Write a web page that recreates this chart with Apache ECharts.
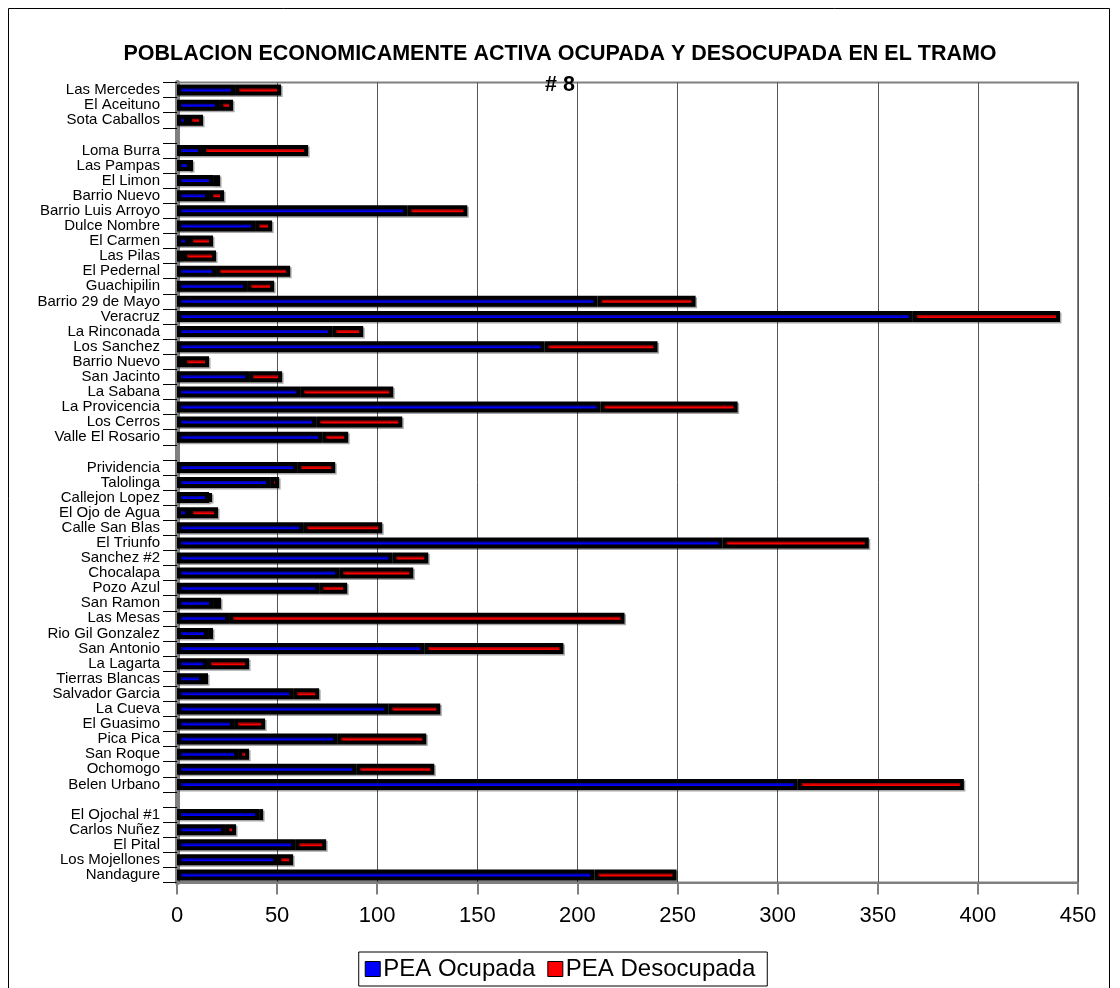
<!DOCTYPE html>
<html>
<head>
<meta charset="utf-8">
<script src="https://cdn.jsdelivr.net/npm/echarts@6/dist/echarts.min.js"></script>
<style>html,body{margin:0;padding:0;background:#fff;}#c{width:1120px;height:988px;}</style>
</head>
<body>
<div id="c"></div>
<script>
const categories = ['Las Mercedes','El Aceituno','Sota Caballos','',
  'Loma Burra','Las Pampas','El Limon','Barrio Nuevo','Barrio Luis Arroyo','Dulce Nombre','El Carmen','Las Pilas','El Pedernal','Guachipilin','Barrio 29 de Mayo','Veracruz','La Rinconada','Los Sanchez','Barrio Nuevo','San Jacinto','La Sabana','La Provicencia','Los Cerros','Valle El Rosario','',
  'Prividencia','Talolinga','Callejon Lopez','El Ojo de Agua','Calle San Blas','El Triunfo','Sanchez #2','Chocalapa','Pozo Azul','San Ramon','Las Mesas','Rio Gil Gonzalez','San Antonio','La Lagarta','Tierras Blancas','Salvador Garcia','La Cueva','El Guasimo','Pica Pica','San Roque','Ochomogo','Belen Urbano','',
  'El Ojochal #1','Carlos Nuñez','El Pital','Los Mojellones','Nandagure'];
const peaOcupada = [29,21,5.5,null,
  12.5,7,18,16,115,39,6,3,19.5,35,210,367.5,77.5,183.5,3,36,61.5,211.5,69.5,72.5,null,
  60,46.5,16,6,63,272.5,107.5,81,71,18,26,15.5,123.5,15,13,58,105.5,28.5,80,30.5,89.5,310,null,
  41,24,59,50,208.5];
const peaDesocupada = [23,7,7.5,null,
  53,0,3.5,7.5,30,8.5,12,16.5,37,13.5,49,73.5,15.5,56.5,13,16.5,46.5,68.5,43,13,null,
  19,4.5,1,14.5,39.5,73,18,37,14,4,197.5,2.5,69.5,21,2.5,13,26,15.5,44.5,5.5,39,83,null,
  2,5.5,15.5,8,41];
const xTicks = {min:0, max:450, interval:50};
const titleText = 'POBLACION ECONOMICAMENTE ACTIVA OCUPADA Y DESOCUPADA EN EL TRAMO\n# 8';
const seriesNames = ['PEA Ocupada','PEA Desocupada'];

const chart = echarts.init(document.getElementById('c'), null, {renderer:'canvas'});
const font = '"Liberation Sans", Arial, sans-serif';
const barStyle = (c) => ({color:c, borderColor:'#000', borderWidth:4,
  shadowColor:'rgba(0,0,0,0.35)', shadowOffsetX:1.5, shadowOffsetY:1.5, shadowBlur:0});
chart.setOption({
  animation:false,
  backgroundColor:'#fff',
  textStyle:{fontFamily:font},
  graphic:[{type:'rect', shape:{x:8.5,y:8.5,width:1101,height:1000}, style:{fill:'none',stroke:'#000',lineWidth:1}, silent:true}],
  title:{text:titleText, left:'center', top:34,
    textStyle:{fontFamily:font, fontSize:21.5, fontWeight:'bold', color:'#000', lineHeight:31}},
  legend:{bottom:2, left:'center', data:seriesNames, icon:'rect', itemWidth:15, itemHeight:15, itemGap:12,
    borderColor:'#000', borderWidth:1, padding:[5,12,5,6],
    textStyle:{fontFamily:font, fontSize:24, color:'#000', padding:[0,0,0,-2]},
    itemStyle:{borderColor:'#000', borderWidth:1}},
  grid:{left:177, right:42, top:82.5, bottom:105.5, show:true, borderColor:'#808080', borderWidth:2, containLabel:false},
  xAxis:{type:'value', min:xTicks.min, max:xTicks.max, interval:xTicks.interval,
    axisLine:{show:true, lineStyle:{color:'#808080', width:2}},
    axisTick:{show:true, length:12, lineStyle:{color:'#808080', width:2}},
    axisLabel:{fontFamily:font, fontSize:22, color:'#000', margin:22},
    splitLine:{show:true, lineStyle:{color:'#555', width:1}}},
  yAxis:{type:'category', inverse:true, data:categories,
    axisLine:{show:true, lineStyle:{color:'#808080', width:5}},
    axisTick:{show:true, length:14, interval:0, lineStyle:{color:'#000', width:1}},
    axisLabel:{fontFamily:font, fontSize:15, color:'#000', margin:17, interval:0},
    splitLine:{show:false}},
  series:[
    {name:seriesNames[0], type:'bar', stack:'t', data:peaOcupada, barWidth:11, itemStyle:barStyle('#0000FF')},
    {name:seriesNames[1], type:'bar', stack:'t', data:peaDesocupada, barWidth:11, itemStyle:barStyle('#FF0000')}
  ]
});
</script>
</body>
</html>
